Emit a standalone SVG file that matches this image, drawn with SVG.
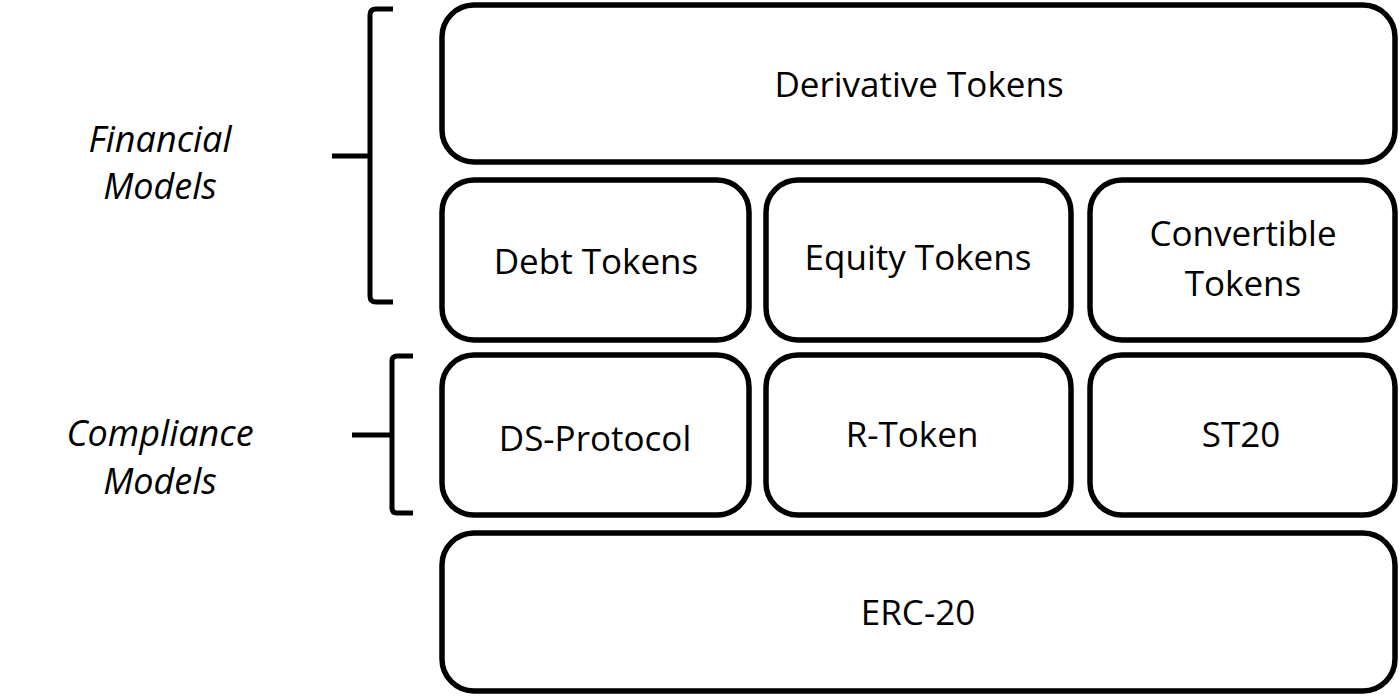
<svg xmlns="http://www.w3.org/2000/svg" width="1400" height="696" viewBox="0 0 1400 696">
<style>
.box{fill:#fff;stroke:#000;stroke-width:5.5}
.t{font-family:"Open Sans","Liberation Sans",sans-serif;font-size:35px;font-weight:500;fill:#000;text-anchor:middle}
.lbl{font-family:"Open Sans","Liberation Sans",sans-serif;font-size:36px;font-weight:500;font-style:italic;fill:#000;text-anchor:middle}
.br{fill:none;stroke:#000;stroke-width:5;stroke-linejoin:round}
</style>
<rect width="1400" height="696" fill="#fff"/>
<g id="derivative"><rect class="box" x="442" y="5" width="953" height="157" rx="32"/><text class="t" x="919" y="97">Derivative Tokens</text></g>
<g id="debt"><rect class="box" x="442" y="180" width="307" height="160" rx="32"/><text class="t" x="596" y="274">Debt Tokens</text></g>
<g id="equity"><rect class="box" x="766" y="180" width="305" height="160" rx="32"/><text class="t" x="918" y="270">Equity Tokens</text></g>
<g id="convertible"><rect class="box" x="1090" y="180" width="305" height="160" rx="32"/><text class="t" x="1243" y="246">Convertible</text><text class="t" x="1243" y="296">Tokens</text></g>
<g id="ds"><rect class="box" x="442" y="355" width="307" height="160" rx="32"/><text class="t" x="595" y="451">DS-Protocol</text></g>
<g id="rtoken"><rect class="box" x="766" y="355" width="305" height="160" rx="32"/><text class="t" x="912" y="447">R-Token</text></g>
<g id="st20"><rect class="box" x="1090" y="355" width="305" height="160" rx="32"/><text class="t" x="1241" y="447">ST20</text></g>
<g id="erc20"><rect class="box" x="442" y="533" width="953" height="158" rx="32"/><text class="t" x="918" y="625">ERC-20</text></g>
<g id="financial"><text class="lbl" x="160" y="152">Financial</text><text class="lbl" x="160" y="199">Models</text></g>
<g id="compliance"><text class="lbl" x="160" y="446">Compliance</text><text class="lbl" x="160" y="494">Models</text></g>
<g id="connectors">
<path class="br" d="M393 9 H376 Q370 9 370 15 V296 Q370 302 376 302 H393"/>
<path class="br" d="M332 156 H370"/>
<path class="br" d="M413 356 H397 Q392 356 392 361 V508 Q392 513 397 513 H413"/>
<path class="br" d="M352 435 H392"/>
</g>
</svg>
